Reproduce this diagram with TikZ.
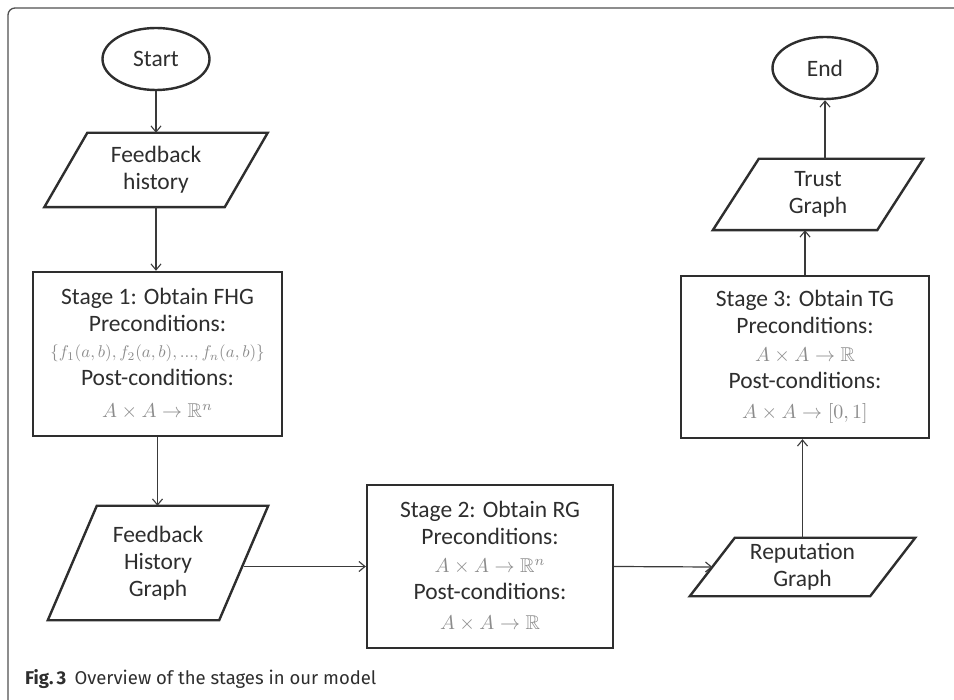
\documentclass[tikz,border=0pt]{standalone}
\usepackage{amsmath,amssymb,graphicx}
\usepackage[no-math]{fontspec}
\setmainfont{Carlito}
\newfontfamily\capfont{Fira Sans}
\usetikzlibrary{shapes.geometric,arrows.meta}
\definecolor{ink}{HTML}{2E2E2E}
\definecolor{lineink}{HTML}{3A3A3A}
\definecolor{mathgray}{HTML}{8C8C8C}
\definecolor{framegray}{HTML}{505050}
\newcommand{\mth}[2]{{\fontsize{10}{10}\selectfont\color{mathgray}\scalebox{#1}{$#2$}}}
\newcommand{\parabox}[2]{\draw[boxline] ([xshift=#2]#1.north west) -- ([xshift=#2]#1.north east) -- ([xshift=-#2]#1.south east) -- ([xshift=-#2]#1.south west) -- cycle;}
\tikzset{
  boxline/.style={draw=ink, line width=2.4pt, line join=miter},
  term/.style={ellipse, boxline, inner sep=0pt, text=ink, font=\fontsize{23.5}{26}\selectfont},
  pnode/.style={rectangle, inner sep=0pt, align=center, text=ink, font=\fontsize{23.5}{27}\selectfont},
  stagebox/.style={rectangle, boxline, inner sep=0pt, align=center, text=ink, minimum width=248pt, minimum height=163pt, font=\fontsize{23.5}{26.5}\selectfont},
  conn/.style={draw=lineink, line width=1.2pt, -{Straight Barb[length=6pt,width=10pt,line width=1.1pt]}}
}
\begin{document}
\begin{tikzpicture}[x=1pt,y=-1pt]
\useasboundingbox (0,0) rectangle (954,700);
\fill[white] (0,0) rectangle (954,700);
\draw[framegray, line width=1.3pt, rounded corners=7pt] (8,720) -- (8,8) -- (970,8);

\node[term, minimum width=107pt, minimum height=62pt] (start) at (156,59) {Start};
\node[pnode, minimum width=180pt, minimum height=74pt] (fb) at (156,170) {Feedback\\history};
\parabox{fb}{21.5pt}

\node[stagebox, minimum width=249pt, minimum height=164pt] (s1) at (157.5,354) {Stage 1: Obtain FHG\\Preconditions:\\[0pt]\mth{1.7}{\{f_1(a,b),f_2(a,b),...,f_n(a,b)\}}\\[1pt]Post-conditions:\\[6pt]\mth{2.0}{A\times A\rightarrow\mathbb{R}^n}};

\node[pnode, minimum width=171pt, minimum height=114pt] (fhg) at (158,563) {Feedback\\History\\Graph};
\parabox{fhg}{24.5pt}

\node[stagebox, minimum width=246pt] (s2) at (490,566.5) {Stage 2: Obtain RG\\Preconditions:\\[2pt]\mth{2.0}{A\times A\rightarrow\mathbb{R}^n}\\[0pt]Post-conditions:\\[4pt]\mth{2.0}{A\times A\rightarrow\mathbb{R}}};

\node[pnode, minimum width=180pt, minimum height=58pt] (rep) at (802.5,567) {Reputation\\Graph};
\parabox{rep}{22.5pt}

\node[stagebox, minimum height=162pt] (s3) at (805,357) {Stage 3: Obtain TG\\Preconditions:\\[2pt]\mth{2.0}{A\times A\rightarrow\mathbb{R}}\\[0pt]Post-conditions:\\[4pt]\mth{2.0}{A\times A\rightarrow[0,1]}};

\node[pnode, minimum width=164pt, minimum height=71pt] (tg) at (818,194.5) {Trust\\Graph};
\parabox{tg}{23pt}

\node[term, minimum width=105pt, minimum height=62pt] (end) at (825,68) {End};

\draw[conn] (start.south) -- (fb.north);
\draw[conn] (fb.south) -- (fb.south |- s1.north);
\draw[conn] (s1.south) -- (s1.south |- fhg.north);
\draw[conn] (s2.west -| fhg.east) -- (s2.west);
\draw[conn] (s2.east) -- (rep.west);
\draw[conn] (rep.north) -- (rep.north |- s3.south);
\draw[conn] (s3.north) -- (s3.north |- tg.south);
\draw[conn] (end.south |- tg.north) -- (end.south);

\node[anchor=base west, inner sep=0pt, text=ink, font=\capfont\fontsize{18.5}{20}\selectfont] (cap) at (25,684) {\textbf{Fig.\,3}\hspace{0.45em}Overview of the stages in our model};
\end{tikzpicture}
\end{document}
